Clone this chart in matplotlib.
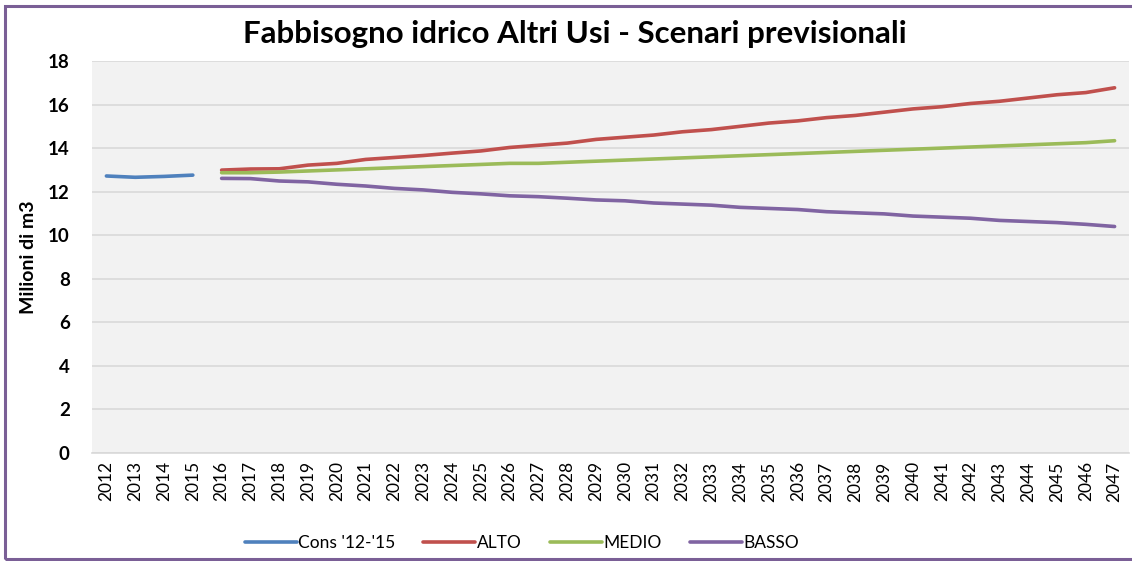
import matplotlib.pyplot as plt
import numpy as np
from matplotlib.patches import Rectangle

plt.rcParams['font.family'] = ['Lato', 'DejaVu Sans']

years = [str(y) for y in range(2012, 2048)]
cons = [12.72, 12.66, 12.70, 12.76]
alto = [12.99, 13.04, 13.05, 13.22, 13.30, 13.48, 13.57, 13.66, 13.77, 13.87,
        14.03, 14.13, 14.23, 14.40, 14.50, 14.60, 14.75, 14.85, 15.00, 15.15,
        15.25, 15.40, 15.50, 15.65, 15.80, 15.90, 16.05, 16.15, 16.30, 16.45,
        16.55, 16.77]
medio = [12.87, 12.87, 12.90, 12.95, 13.00, 13.05, 13.10, 13.15, 13.20, 13.25,
         13.30, 13.30, 13.35, 13.40, 13.45, 13.50, 13.55, 13.60, 13.65, 13.70,
         13.75, 13.80, 13.85, 13.90, 13.95, 14.00, 14.05, 14.10, 14.15, 14.20,
         14.25, 14.34]
basso = [12.61, 12.60, 12.49, 12.45, 12.34, 12.26, 12.15, 12.08, 11.97, 11.90,
         11.81, 11.77, 11.70, 11.62, 11.58, 11.48, 11.43, 11.38, 11.28, 11.23,
         11.18, 11.08, 11.03, 10.98, 10.88, 10.83, 10.78, 10.68, 10.63, 10.58,
         10.50, 10.40]

x = np.arange(len(years))
pad = [np.nan] * 4

fig = plt.figure(figsize=(11.32, 5.61), dpi=100)
ax = fig.add_axes([92/1132, 108/561, 1037/1132, 392/561])
ax.set_facecolor('#f2f2f2')

lw = 2.6
ax.plot(x[:4], cons, color='#4f81bd', lw=lw, solid_capstyle='round', label="Cons '12-'15")
ax.plot(x, pad + alto, color='#c0504d', lw=lw, solid_capstyle='round', label='ALTO')
ax.plot(x, pad + medio, color='#9bbb59', lw=lw, solid_capstyle='round', label='MEDIO')
ax.plot(x, pad + basso, color='#8064a2', lw=lw, solid_capstyle='round', label='BASSO')

ax.set_xlim(-0.5, len(years) - 0.5)
ax.set_ylim(0, 18)
ax.set_yticks(range(0, 19, 2))
ax.set_yticklabels([str(v) for v in range(0, 19, 2)], fontsize=13.5, fontweight='bold')
ax.set_xticks(x)
ax.set_xticklabels(years, rotation=90, fontsize=12.5)
ax.tick_params(length=0)
ax.tick_params(axis='y', pad=16)
ax.tick_params(axis='x', pad=6)
ax.grid(axis='y', color='#d9d9d9', lw=1.2)
ax.set_axisbelow(True)
for s in ['top', 'right', 'left']:
    ax.spines[s].set_visible(False)
ax.spines['bottom'].set_color('#d9d9d9')
ax.spines['bottom'].set_linewidth(1.2)

ax.set_ylabel('Milioni di m3', fontsize=14, fontweight='bold', labelpad=8)
fig.text(575/1132, 1 - 34/561, 'Fabbisogno idrico Altri Usi - Scenari previsionali',
         ha='center', va='center', fontsize=22.5, fontweight='bold')

fig.legend(loc='center', bbox_to_anchor=(522/1132, 1 - 543/561), ncol=4, frameon=False,
           fontsize=12.5, handlelength=3.0, handletextpad=0.1, columnspacing=1.6)

fig.patches.append(Rectangle((5/1132, 2/561), 1.2, 553/561, transform=fig.transFigure,
                             fill=False, edgecolor='#7a5f96', lw=2.2))

fig.savefig('out.png', dpi=100)
